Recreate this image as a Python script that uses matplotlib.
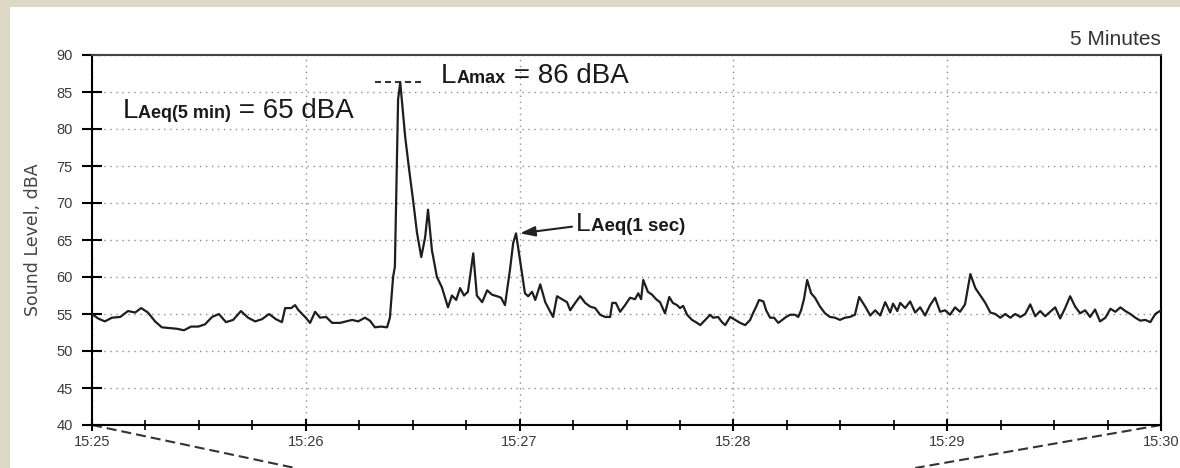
import matplotlib
matplotlib.use('Agg')
import numpy as np
import matplotlib.pyplot as plt
from matplotlib import font_manager
from matplotlib.patches import Rectangle

# seconds after 15:25 and the 1-second LAeq read at each of them
secs = [
    0.0, 1.7, 3.6, 5.6, 7.9, 10.1, 12.1, 13.8, 15.7, 17.7,
    19.6, 21.9, 23.9, 25.8, 27.8, 29.8, 31.7, 33.7, 35.6, 37.6,
    39.6, 41.8, 43.8, 45.8, 47.7, 49.7, 51.6, 53.3, 54.2, 55.9,
    57.0, 57.8, 59.8, 61.2, 62.6, 64.0, 65.7, 67.4, 69.6, 71.3,
    73.0, 74.7, 76.6, 78.0, 79.4, 81.1, 82.8, 83.6, 84.5, 85.0,
    85.9, 86.5, 87.9, 89.0, 90.1, 91.2, 92.4, 93.5, 94.3, 95.4,
    96.8, 98.2, 99.9, 101.0, 102.2, 103.3, 104.4, 105.5, 107.0, 108.0,
    109.5, 110.9, 112.3, 113.7, 114.8, 115.9, 117.3, 118.2, 119.0, 120.1,
    121.5, 122.4, 123.5, 124.4, 125.8, 127.2, 128.6, 129.4, 130.5, 131.9,
    133.3, 134.2, 135.6, 137.0, 138.4, 139.8, 141.2, 142.6, 144.0, 145.4,
    146.0, 147.0, 148.2, 149.6, 151.0, 152.4, 153.3, 154.1, 154.7, 156.0,
    157.2, 158.3, 159.4, 160.8, 162.0, 163.0, 164.2, 165.0, 165.9, 167.0,
    168.4, 169.8, 170.7, 172.1, 173.5, 174.3, 175.7, 176.8, 177.7, 179.1,
    180.5, 181.9, 183.3, 184.7, 185.5, 186.4, 187.2, 188.4, 189.2, 190.3,
    191.4, 192.6, 193.7, 194.8, 195.9, 197.3, 198.2, 199.0, 199.8, 200.7,
    201.8, 202.9, 204.3, 205.7, 207.1, 208.5, 209.9, 211.3, 212.7, 214.1,
    215.3, 217.0, 218.4, 219.8, 221.2, 222.6, 224.0, 224.8, 226.0, 226.8,
    228.2, 229.6, 231.0, 232.4, 233.8, 235.2, 236.6, 238.0, 239.4, 240.8,
    242.2, 243.6, 245.0, 246.5, 247.9, 249.3, 250.7, 252.1, 253.5, 254.9,
    256.3, 257.7, 259.1, 260.5, 261.9, 263.3, 264.7, 266.1, 267.5, 268.9,
    270.3, 271.7, 273.1, 274.5, 275.9, 277.3, 278.7, 280.1, 281.5, 282.9,
    284.4, 285.8, 287.2, 288.6, 290.0, 291.4, 292.8, 294.2, 295.6, 297.0,
    298.4, 300.0,
]
levels = [
    55.0, 54.4, 54.0, 54.5, 54.6, 55.4, 55.2, 55.8, 55.2, 54.0,
    53.2, 53.1, 53.0, 52.8, 53.3, 53.3, 53.6, 54.6, 55.0, 53.9,
    54.2, 55.4, 54.5, 54.0, 54.3, 55.0, 54.3, 53.9, 55.8, 55.8,
    56.2, 55.6, 54.6, 53.8, 55.3, 54.5, 54.6, 53.8, 53.8, 54.0,
    54.2, 54.0, 54.5, 54.1, 53.2, 53.3, 53.2, 54.5, 60.0, 61.4,
    84.0, 86.3, 78.9, 74.5, 70.4, 66.0, 62.7, 65.4, 69.1, 63.6,
    60.0, 58.6, 55.9, 57.5, 56.9, 58.5, 57.5, 58.0, 63.2, 57.5,
    56.6, 58.2, 57.6, 57.4, 57.2, 56.2, 61.0, 64.6, 65.9, 62.3,
    57.8, 57.4, 58.0, 56.9, 59.0, 56.6, 55.3, 54.6, 57.4, 57.0,
    56.6, 55.5, 56.5, 57.4, 56.5, 56.0, 55.8, 54.9, 54.6, 54.6,
    56.5, 56.5, 55.3, 56.2, 57.2, 57.0, 57.8, 57.0, 59.6, 58.0,
    57.6, 57.0, 56.6, 55.1, 57.3, 56.5, 56.2, 55.8, 56.1, 54.9,
    54.2, 53.8, 53.5, 54.2, 54.9, 54.5, 54.6, 53.9, 53.5, 54.6,
    54.2, 53.8, 53.5, 54.2, 55.1, 56.0, 56.9, 56.7, 55.5, 54.5,
    54.5, 53.8, 54.2, 54.6, 54.9, 54.9, 54.6, 55.5, 57.0, 59.6,
    57.8, 57.2, 56.0, 55.1, 54.6, 54.5, 54.2, 54.5, 54.6, 54.9,
    57.3, 56.0, 54.8, 55.5, 54.8, 56.6, 55.2, 56.4, 55.4, 56.5,
    55.8, 56.7, 55.2, 55.9, 54.8, 56.2, 57.2, 55.3, 55.5, 54.9,
    55.9, 55.3, 56.3, 60.4, 58.5, 57.5, 56.5, 55.2, 55.0, 54.5,
    55.0, 54.5, 55.0, 54.6, 55.0, 56.3, 54.7, 55.4, 54.7, 55.3,
    55.9, 54.4, 55.8, 57.4, 56.0, 55.1, 55.5, 54.6, 55.6, 54.0,
    54.5, 55.7, 55.3, 55.9, 55.4, 55.0, 54.5, 54.1, 54.2, 53.9,
    55.0, 55.5,
]

tick_secs = [0, 60, 120, 180, 240, 300]
tick_labels = ['15:25', '15:26', '15:27', '15:28', '15:29', '15:30']
lamax = 86.3

names = {f.name for f in font_manager.fontManager.ttflist}
if 'Liberation Sans Narrow' in names:
    tick_font, tick_size = 'Liberation Sans Narrow', 12
else:
    tick_font, tick_size = 'Liberation Sans', 10.5
plt.rcParams['font.family'] = ['Liberation Sans', 'DejaVu Sans']

fig = plt.figure(figsize=(11.8, 4.68), dpi=100)
fig.patch.set_facecolor('#ddd8c4')
fig.add_artist(Rectangle((10 / 1180, 0), 1, 461 / 468, transform=fig.transFigure,
                         facecolor='white', edgecolor='none', zorder=-1))

ax = fig.add_axes([92 / 1180, 43 / 468, 1069 / 1180, 370 / 468])
ax.plot(secs, levels, color='#1e1e1e', lw=1.6, solid_joinstyle='round', zorder=3)

ax.set_xlim(0, 300)
ax.set_ylim(40, 90)
ax.set_yticks(range(40, 91, 5))
ax.set_xticks(tick_secs, labels=tick_labels)
ax.set_xticks(np.arange(0, 301, 15), minor=True)
ax.grid(True, which='major', color='#8c8c8c', linestyle=(0, (1, 3.3)), lw=1.0)

ax.tick_params(axis='y', direction='inout', length=14, width=1.5, pad=7,
               labelsize=tick_size, labelcolor='#3a3a3a')
ax.tick_params(axis='x', which='major', direction='inout', length=9, width=1.5, pad=3,
               labelsize=tick_size, labelcolor='#3a3a3a')
ax.tick_params(axis='x', which='minor', direction='inout', length=7, width=1.2)
for lab in ax.get_xticklabels() + ax.get_yticklabels():
    lab.set_fontfamily(tick_font)

for side in ['left', 'bottom', 'right']:
    ax.spines[side].set_linewidth(1.5)
    ax.spines[side].set_color('black')
ax.spines['top'].set_linewidth(1.5)
ax.spines['top'].set_color('#444444')

ax.set_ylabel('Sound Level, dBA', fontsize=12.5, color='#444444', fontfamily='DejaVu Sans')
ax.yaxis.set_label_coords(-0.047, 0.5)

ax.text(1.0, 1.027, '5 Minutes', transform=ax.transAxes, ha='right', va='baseline',
        fontsize=15, color='#333333')


def level_label(x, y, sub, rest, big, small):
    t = ax.text(x, y, 'L', fontsize=big, va='baseline', ha='left', color='#1a1a1a')
    t = ax.annotate(sub, xy=(1, y), xycoords=(t, 'data'), fontsize=small,
                    fontweight='bold', va='baseline', ha='left', color='#1a1a1a')
    if rest:
        ax.annotate(rest, xy=(1, y), xycoords=(t, 'data'), fontsize=big,
                    va='baseline', ha='left', color='#1a1a1a')


level_label(8.7, 81.5, 'Aeq(5 min)', ' = 65 dBA', 20, 13)
level_label(98, 86.2, 'Amax', ' = 86 dBA', 20, 13)
level_label(135.9, 66.2, 'Aeq(1 sec)', '', 19, 13.5)

# LAmax marker and arrow to the 1 s peak
ax.plot([79.4, 93.5], [lamax, lamax], color='#333333', lw=1.5, ls=(0, (2.9, 1.9)))
ax.annotate('', xy=(120.1, 65.9), xytext=(134.7, 66.8),
            arrowprops=dict(arrowstyle='-|>,head_length=0.6,head_width=0.2',
                            color='#222222', lw=1.5, mutation_scale=15,
                            shrinkA=0, shrinkB=0))

# zoom lines running out of the panel
ax.plot([0, 57], [40, 34.19], clip_on=False, color='#333333', lw=1.5, ls=(0, (4.8, 2.4)))
ax.plot([300, 231], [40, 34.19], clip_on=False, color='#333333', lw=1.5, ls=(0, (4.8, 2.4)))

fig.savefig('out.png', dpi=100, facecolor=fig.get_facecolor())
